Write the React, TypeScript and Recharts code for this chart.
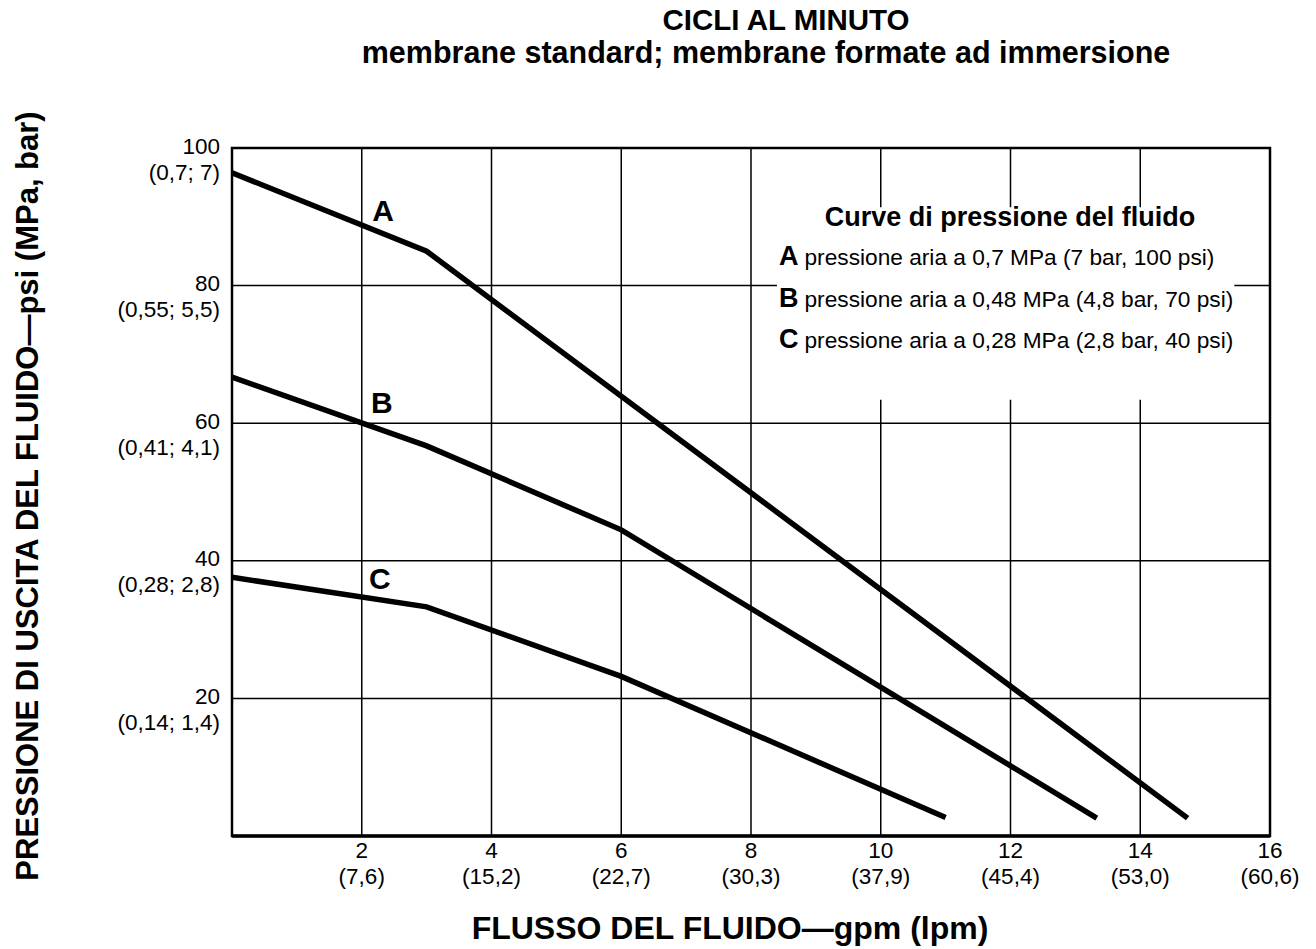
import React from 'react'
import {
  LineChart,
  Line,
  XAxis,
  YAxis,
  CartesianGrid,
  ReferenceArea,
  ReferenceDot,
} from 'recharts'

// flow in gpm, pressure in psi
const flowA = [0, 3, 14.73]
const pressA = [96.4, 85, 2.6]
const flowB = [0, 3, 6, 13.33]
const pressB = [66.7, 56.7, 44.5, 2.6]
const flowC = [0, 3, 6, 11.0]
const pressC = [37.6, 33.3, 23.2, 2.7]

const gpmTicks = [2, 4, 6, 8, 10, 12, 14, 16]
const lpmLabels = ['(7,6)', '(15,2)', '(22,7)', '(30,3)', '(37,9)', '(45,4)', '(53,0)', '(60,6)']
const cycleLabels = ['46; 64', '91; 128', '137; 192', '182; 256', '228; 319', '273; 383', '319; 447', '364; 511']
const psiTicks = [20, 40, 60, 80, 100]
const mpaBarLabels = ['(0,14; 1,4)', '(0,28; 2,8)', '(0,41; 4,1)', '(0,55; 5,5)', '(0,7; 7)']

const curveIds = ['A', 'B', 'C']
const curveDescriptions = [
  'pressione aria a 0,7 MPa (7 bar, 100 psi)',
  'pressione aria a 0,48 MPa (4,8 bar, 70 psi)',
  'pressione aria a 0,28 MPa (2,8 bar, 40 psi)',
]
// where the curve letters sit on the chart (data coords)
const letterFlow = [2.33, 2.31, 2.28]
const letterPress = [91.0, 63.1, 37.5]

const toRows = (xs: number[], ys: number[]) => xs.map((x, i) => ({ flow: x, psi: ys[i] }))
const seriesData = [toRows(flowA, pressA), toRows(flowB, pressB), toRows(flowC, pressC)]

const FONT = '"Liberation Sans", Arial, Helvetica, sans-serif'
const TICK_FS = 22.5

const BottomTick = (props: any) => {
  const { x, y, payload } = props
  const i = gpmTicks.indexOf(payload.value)
  return (
    <g>
      <text x={x} y={y + 14} textAnchor="middle" dominantBaseline="central" fontSize={TICK_FS} fontFamily={FONT} fill="#000">
        {payload.value}
      </text>
      <text x={x} y={y + 40} textAnchor="middle" dominantBaseline="central" fontSize={TICK_FS} fontFamily={FONT} fill="#000">
        {lpmLabels[i]}
      </text>
    </g>
  )
}

const TopTick = (props: any) => {
  const { x, y, payload } = props
  const i = gpmTicks.indexOf(payload.value)
  return (
    <text x={x} y={y - 18} textAnchor="middle" dominantBaseline="central" fontSize={TICK_FS} fontFamily={FONT} fill="#000">
      {cycleLabels[i]}
    </text>
  )
}

const LeftTick = (props: any) => {
  const { x, y, payload } = props
  const i = psiTicks.indexOf(payload.value)
  return (
    <g>
      <text x={x} y={y - 2} textAnchor="end" dominantBaseline="central" fontSize={TICK_FS} fontFamily={FONT} fill="#000">
        {payload.value}
      </text>
      <text x={x} y={y + 24} textAnchor="end" dominantBaseline="central" fontSize={TICK_FS} fontFamily={FONT} fill="#000">
        {mpaBarLabels[i]}
      </text>
    </g>
  )
}

const abs = (left: number, top: number, extra: React.CSSProperties = {}): React.CSSProperties => ({
  position: 'absolute',
  left,
  top,
  fontFamily: FONT,
  color: '#000',
  whiteSpace: 'nowrap',
  ...extra,
})

export default function App() {
  return (
    <div style={{ position: 'absolute', left: 0, top: 0, width: 1316, height: 949, background: '#fff' }}>
      <LineChart
        width={1316}
        height={949}
        margin={{ top: 118, right: 46, bottom: 53, left: 172 }}
      >
        <CartesianGrid stroke="#000" strokeWidth={1.5} />
        <XAxis
          dataKey="flow"
          type="number"
          domain={[0, 16]}
          ticks={gpmTicks}
          height={60}
          tickSize={0}
          tickMargin={0}
          axisLine={{ stroke: '#000', strokeWidth: 3.5 }}
          tick={<BottomTick />}
          allowDataOverflow
        />
        <XAxis
          xAxisId="top"
          orientation="top"
          type="number"
          domain={[0, 16]}
          ticks={gpmTicks}
          height={30}
          tickSize={0}
          tickMargin={0}
          axisLine={false}
          tick={<TopTick />}
        />
        <YAxis
          type="number"
          domain={[0, 100]}
          ticks={psiTicks}
          width={60}
          tickSize={0}
          tickMargin={12}
          axisLine={false}
          tick={<LeftTick />}
        />
        {/* gap in the grid behind the curve legend */}
        <ReferenceArea x1={8.4} x2={15.45} y1={63.4} y2={91.4} fill="#fff" fillOpacity={1} stroke="none" />
        <ReferenceArea x1={0} x2={16} y1={0} y2={100} fill="none" stroke="#000" strokeWidth={2.5} />
        {seriesData.map((rows, i) => (
          <Line
            key={curveIds[i]}
            data={rows}
            dataKey="psi"
            type="linear"
            stroke="#000"
            strokeWidth={5.5}
            dot={false}
            activeDot={false}
            isAnimationActive={false}
          />
        ))}
        {curveIds.map((id, i) => (
          <ReferenceDot
            key={'lbl' + id}
            x={letterFlow[i]}
            y={letterPress[i]}
            r={0}
            fill="none"
            stroke="none"
            label={{ value: id, position: 'center', fontSize: 30, fontWeight: 700, fontFamily: FONT, fill: '#000' }}
          />
        ))}
      </LineChart>

      {/* chart title */}
      <div style={abs(486, 3, { width: 600, textAlign: 'center', fontSize: 29.5, lineHeight: '34px', fontWeight: 700 })}>
        CICLI AL MINUTO
      </div>
      <div style={abs(266, 35, { width: 1000, textAlign: 'center', fontSize: 30.5, lineHeight: '35px', fontWeight: 700 })}>
        membrane standard; membrane formate ad immersione
      </div>

      {/* axis titles */}
      <div style={abs(230, 912, { width: 1000, textAlign: 'center', fontSize: 32, lineHeight: '32px', fontWeight: 700 })}>
        FLUSSO DEL FLUIDO—gpm (lpm)
      </div>
      <div
        style={abs(-472, 480, {
          width: 1000,
          textAlign: 'center',
          fontSize: 31,
          lineHeight: '32px',
          fontWeight: 700,
          transform: 'rotate(-90deg)',
        })}
      >
        PRESSIONE DI USCITA DEL FLUIDO—psi (MPa, bar)
      </div>

      {/* curve legend */}
      <div style={abs(760, 202, { width: 500, textAlign: 'center', fontSize: 27, lineHeight: '30px', fontWeight: 700 })}>
        Curve di pressione del fluido
      </div>
      {curveIds.map((id, i) => (
        <div key={'leg' + id} style={abs(779, 241 + i * 41.5, { fontSize: 22.7, lineHeight: '30px' })}>
          <span style={{ fontSize: 27, fontWeight: 700, marginRight: 6 }}>{id}</span>
          {curveDescriptions[i]}
        </div>
      ))}
    </div>
  )
}
